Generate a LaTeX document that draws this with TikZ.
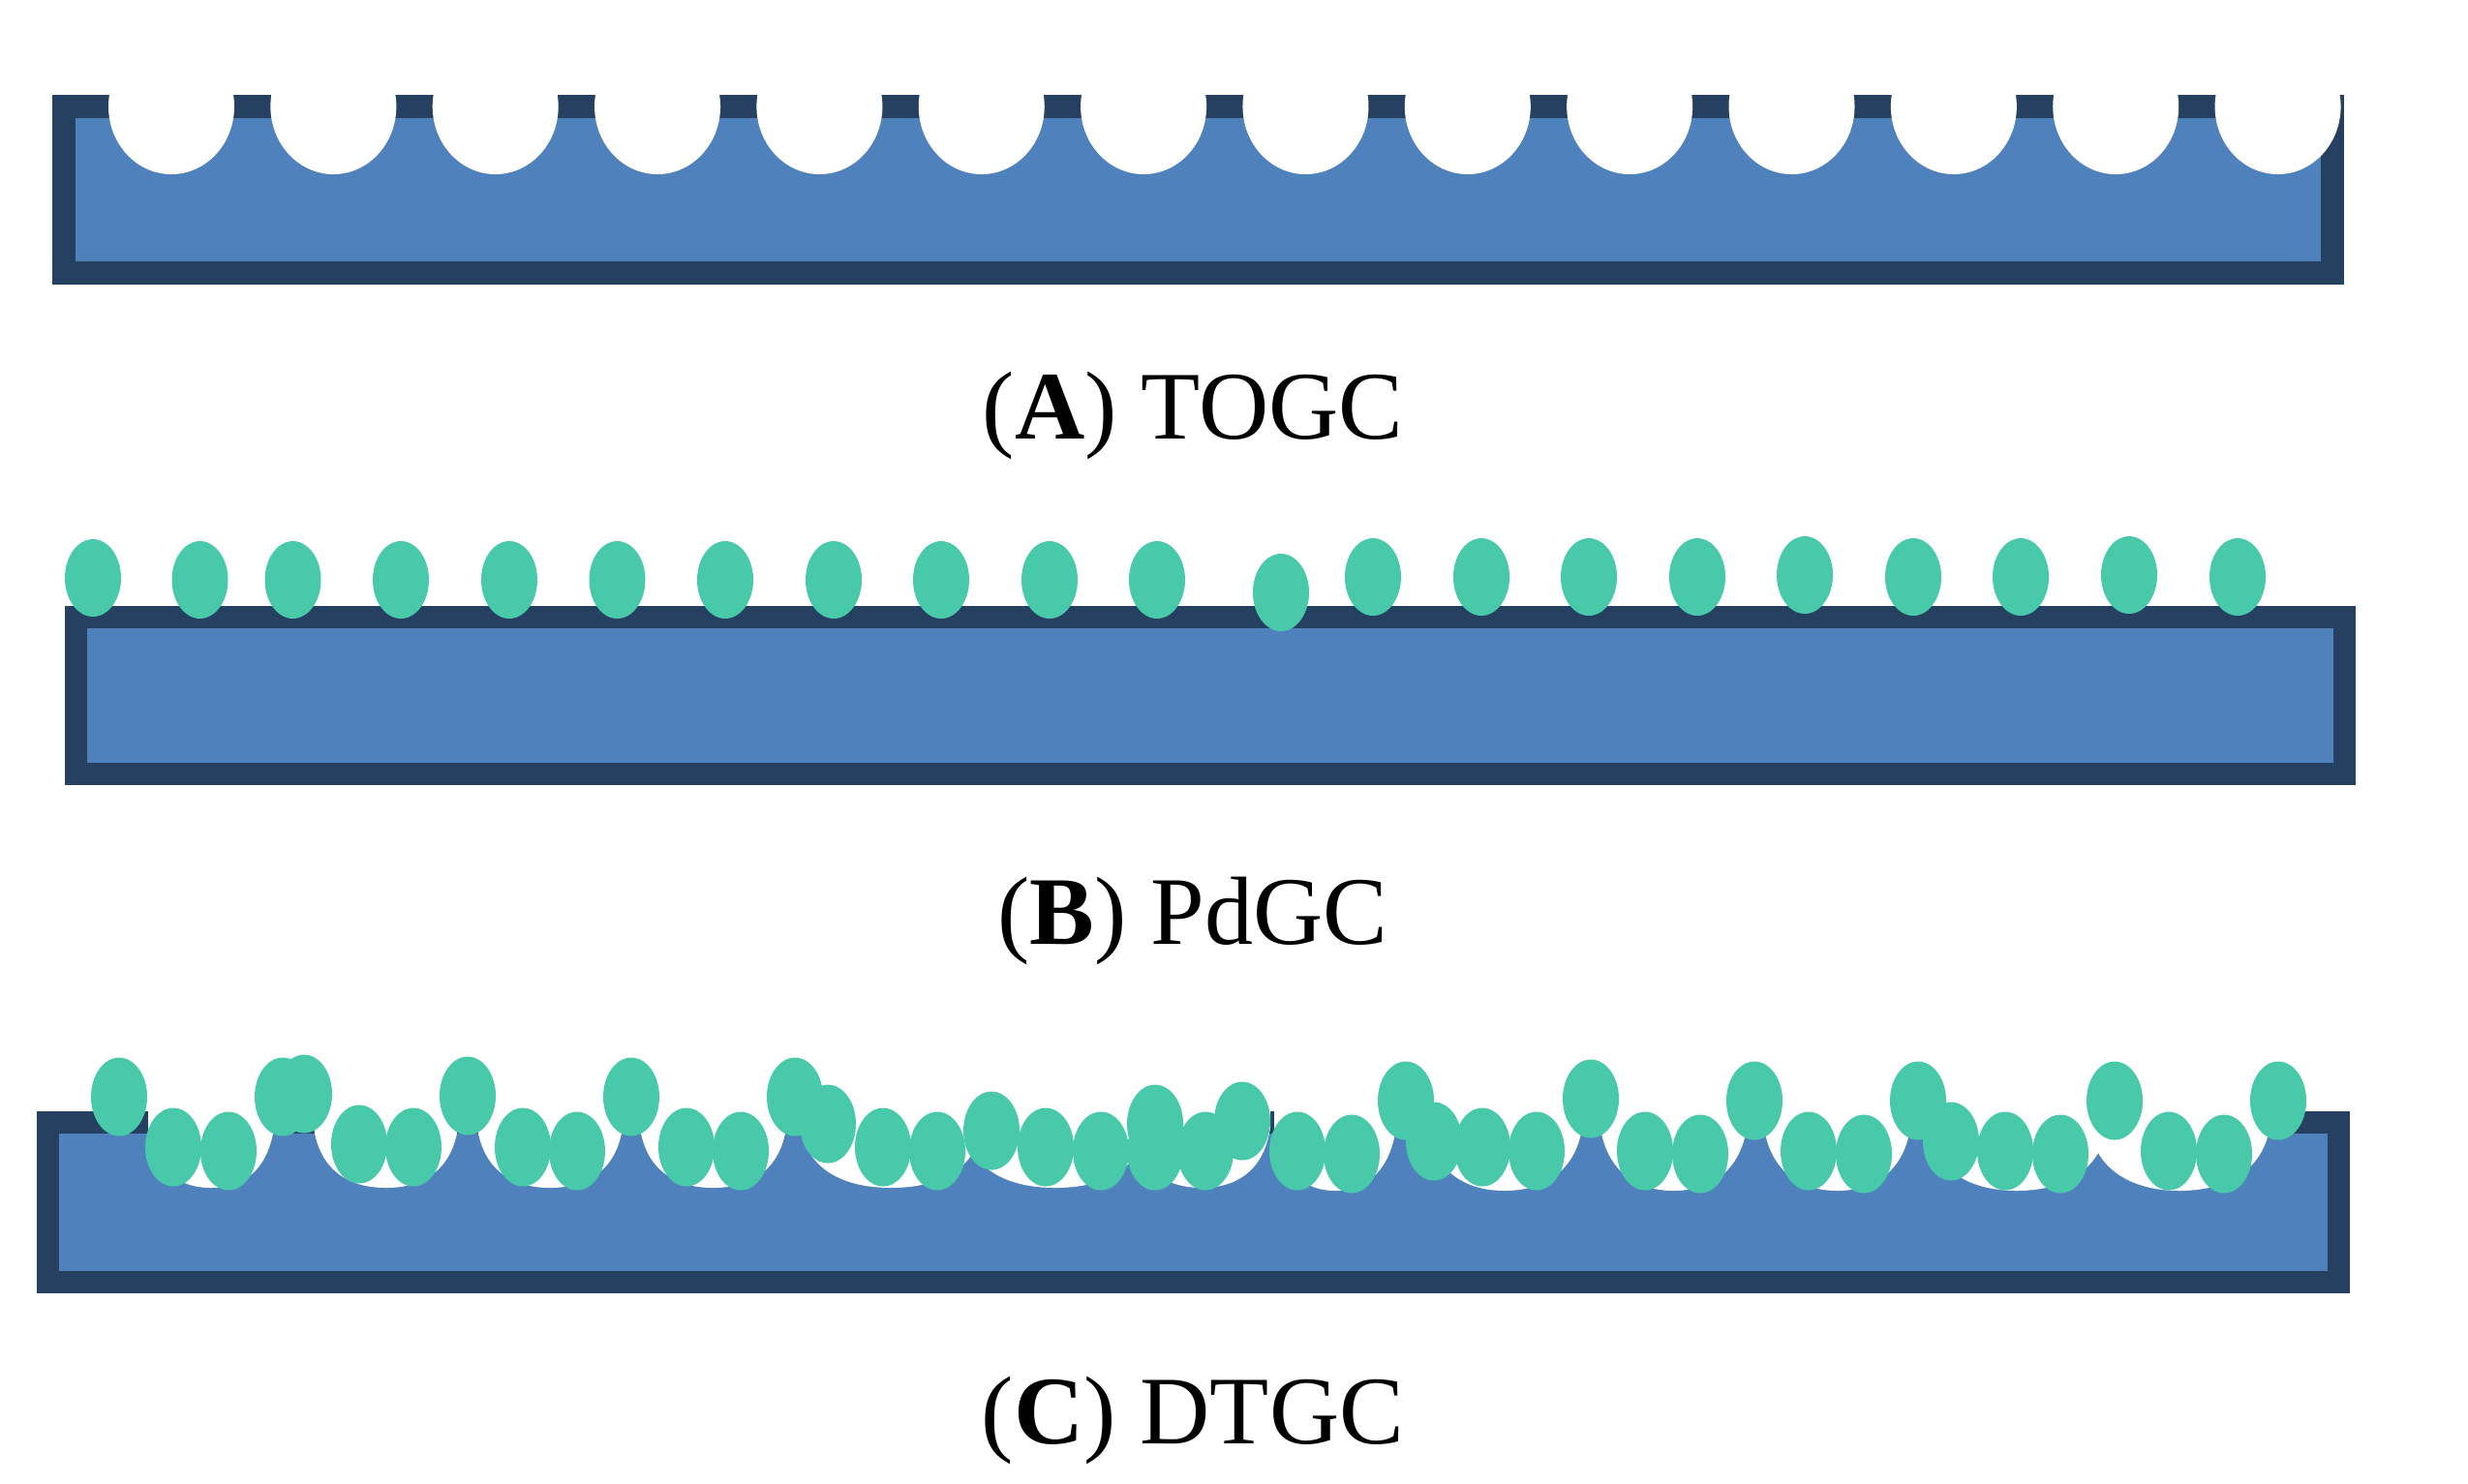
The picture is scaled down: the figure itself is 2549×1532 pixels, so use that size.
\documentclass[tikz,border=0pt]{standalone}
\usepackage{fontspec}
\setmainfont{Liberation Serif}
\definecolor{glassblue}{HTML}{4F81BD}
\definecolor{glassdark}{HTML}{254061}
\definecolor{particlegreen}{HTML}{48C9AA}
\tikzset{
	substrate/.style={fill=glassblue,draw=glassdark,line join=miter},
	particle/.style={fill=particlegreen},
	caption/.style={anchor=base,inner sep=0pt,font=\fontsize{28.45}{32}\selectfont}
}
\begin{document}
\begin{tikzpicture}[x=0.01cm,y=-0.01cm]
	\useasboundingbox (0,0) rectangle (2549,1532);
	% panel A
	\draw[substrate,line width=0.24cm] (66,110) rectangle (2409,282);
	\foreach \i in {0,...,13}
		\fill[white] ({177+167.35*\i},110) ellipse [x radius=65,y radius=70];
	\node[caption] (labelA) at (1232,453) {(\textbf{A}) TOGC};
	% panel B
	\draw[substrate,line width=0.23cm] (78.5,637.5) rectangle (2421.5,799.5);
	\foreach \x/\y in {96/597,206.5/599,302.5/599,414/599,526/599,637.5/599,749/599,861/599,972/599,1084/599,1195/599,
		1323/612,1418/596,1530/596,1641/596,1753/596,1864/594,1976/596,2087/596,2199/594,2311/596}
		\fill[particle] (\x,\y) ellipse [x radius=29,y radius=40];
	\node[caption] (labelB) at (1232,975) {(\textbf{B}) PdGC};
	% panel C
	\draw[substrate,line width=0.23cm] (49.5,1159.5) rectangle (2415.5,1324.5);
	\foreach \xl/\xr/\yb in {153/283/1227,324/473/1227,493/643/1227,661/812/1227,827/1014/1227,996/1184/1227,1170/1312/1227,
		1316/1442/1230,1474/1634/1230,1653/1804/1230,1822/1973/1230,1990/2176/1230,2158/2344/1230}{
		\pgfmathsetmacro\pitmid{(\xl+\xr)/2}
		\pgfmathsetmacro\pitctl{0.285*(\xr-\xl)}
		\fill[white] (\xl,1147)--(\xl,1165) .. controls (\xl+6,1205) and (\pitmid-\pitctl,\yb) .. (\pitmid,\yb)
			.. controls (\pitmid+\pitctl,\yb) and (\xr-6,1205) .. (\xr,1165)--(\xr,1147)--cycle;
	}
	\foreach \x/\y in {123/1133,179/1185,236/1189,292/1133,314/1130,371/1182,427/1185,483/1132,540/1185,596/1189,652/1133,
		709/1185,765/1189,821/1133,855/1161,912/1185,968/1189,1024/1168,1080/1185,1137/1189,1193/1161,1193/1189,1245/1189,
		1283/1158,1340/1189,1396/1192,1452/1137,1481/1179,1531/1185,1587/1189,1643/1135,1699/1189,1756/1192,1812/1137,
		1868/1189,1925/1192,1981/1137,2015/1179,2071/1189,2128/1192,2184/1137,2240/1189,2297/1192,2353/1137}
		\fill[particle] (\x,\y) ellipse [x radius=29,y radius=40.5];
	\node[caption] (labelC) at (1232,1491) {(\textbf{C}) DTGC};
\end{tikzpicture}
\end{document}
